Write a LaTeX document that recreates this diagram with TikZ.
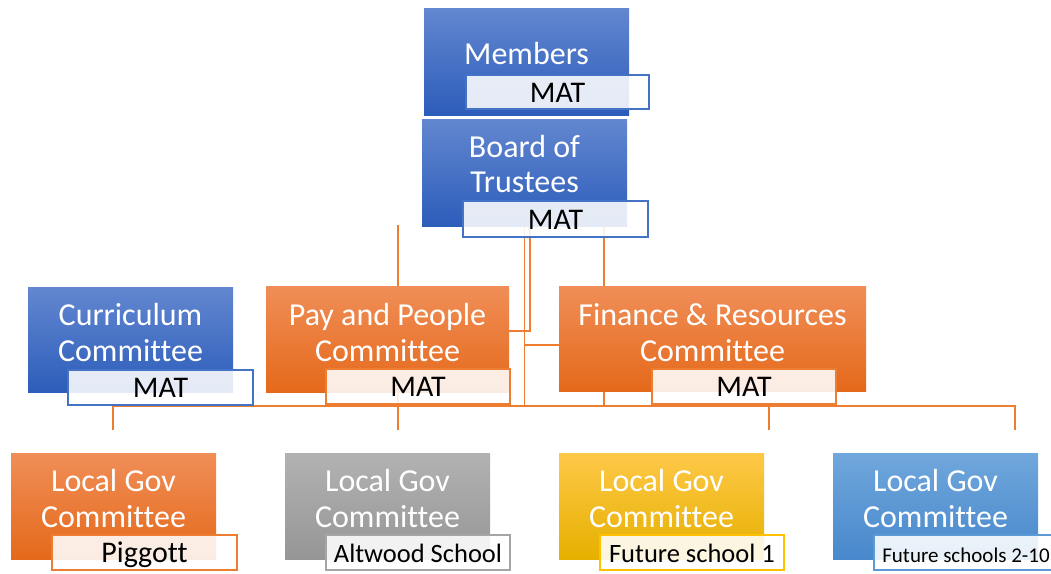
\documentclass[tikz,border=0pt]{standalone}
\usepackage{fontspec}
\setmainfont{Carlito}[Ligatures={NoCommon}]
\usepackage{tikz}
\usetikzlibrary{backgrounds}

\definecolor{BlueTop}{RGB}{99,135,208}
\definecolor{BlueBot}{RGB}{44,93,186}
\definecolor{OrangeTop}{RGB}{240,142,88}
\definecolor{OrangeBot}{RGB}{229,105,26}
\definecolor{GreyTop}{RGB}{178,178,178}
\definecolor{GreyBot}{RGB}{150,150,150}
\definecolor{GoldTop}{RGB}{254,200,72}
\definecolor{GoldBot}{RGB}{230,176,0}
\definecolor{SkyTop}{RGB}{112,167,220}
\definecolor{SkyBot}{RGB}{72,136,204}
\definecolor{TagBlue}{RGB}{68,114,196}
\definecolor{TagOrange}{RGB}{237,125,49}
\definecolor{TagGrey}{RGB}{165,165,165}
\definecolor{TagGold}{RGB}{255,192,0}
\definecolor{TagSky}{RGB}{91,155,213}
\definecolor{LinkOrange}{RGB}{237,125,49}

\begin{document}
\begin{tikzpicture}[x=1pt,y=-1pt,
        unit/.style={minimum width=205,minimum height=106,inner sep=0pt},
        blueunit/.style={unit,top color=BlueTop,bottom color=BlueBot},
        orangeunit/.style={unit,top color=OrangeTop,bottom color=OrangeBot},
        greyunit/.style={unit,top color=GreyTop,bottom color=GreyBot},
        goldunit/.style={unit,top color=GoldTop,bottom color=GoldBot},
        skyunit/.style={unit,top color=SkyTop,bottom color=SkyBot},
        head/.style={text=white,align=center,inner sep=0pt,font=\fontsize{32}{36}\selectfont},
        tag/.style={draw=#1,line width=1.3pt,fill=white,fill opacity=.88,text opacity=1,
            minimum width=184,minimum height=35,inner sep=0pt,text height=26,text depth=6,
            font=\fontsize{30}{32}\selectfont},
        link/.style={draw=LinkOrange,line width=1.2pt}]

    \useasboundingbox (0,0) rectangle (1051,573);

    % governance boxes
    \node[blueunit,minimum height=107]   (members) at (526.5,61.5) {};
    \node[blueunit,minimum height=107]   (board)   at (524.5,172.5) {};
    \node[blueunit,minimum height=105]   (curric)  at (130.5,339.5) {};
    \node[orangeunit,minimum width=243]  (pay)     at (387.5,339) {};
    \node[orangeunit,minimum width=307,minimum height=105] (fin) at (712.5,338.5) {};
    \node[orangeunit] (lgc1) at (113.5,506) {};
    \node[greyunit]   (lgc2) at (387.5,506) {};
    \node[goldunit]   (lgc3) at (661.5,506) {};
    \node[skyunit]    (lgc4) at (935.5,506) {};

    \node[head] (members-t) at ([yshift=8]members.center) {Members};
    \node[head,font=\fontsize{32}{35}\selectfont] (board-t) at ([yshift=8]board.center) {Board of\\Trustees};
    \node[head] (curric-t) at ([yshift=6.5]curric.center) {Curriculum\\Committee};
    \node[head] (pay-t) at ([yshift=6]pay.center) {Pay and People\\Committee};
    \node[head] (fin-t) at ([yshift=6]fin.center) {Finance \& Resources\\Committee};
    \node[head] (lgc1-t) at ([yshift=7.5]lgc1.center) {Local Gov\\Committee};
    \node[head] (lgc2-t) at ([yshift=7.5]lgc2.center) {Local Gov\\Committee};
    \node[head] (lgc3-t) at ([yshift=7.5]lgc3.center) {Local Gov\\Committee};
    \node[head] (lgc4-t) at ([yshift=7.5]lgc4.center) {Local Gov\\Committee};

    % name tags
    \node[tag=TagBlue,minimum width=183,minimum height=34] (members-mat) at (557.5,92) {MAT};
    \node[tag=TagBlue,minimum width=185,minimum height=36] (board-mat) at (555.5,219) {MAT};
    \node[tag=TagBlue,minimum width=185]   (curric-mat) at (160.5,387.5) {MAT};
    \node[tag=TagOrange]                   (pay-mat)    at (418,386.5) {MAT};
    \node[tag=TagOrange]                   (fin-mat)    at (744,386.5) {MAT};
    \node[tag=TagOrange,minimum width=185] (lgc1-tag)   at (144.5,552.5) {Piggott};
    \node[tag=TagGrey]                     (lgc2-tag)   at (418,552.5) {\fontsize{26.5}{28}\selectfont Altwood School};
    \node[tag=TagGold]                     (lgc3-tag)   at (692,552.5) {\fontsize{26.5}{28}\selectfont Future school 1};
    \node[tag=TagSky]                      (lgc4-tag)   at (966,552.5) {\fontsize{21}{24}\selectfont Future schools 2-10};

    % connectors
    \coordinate (payin) at (398,225);
    \coordinate (finx)  at (604,226);
    \coordinate (bus)   at (0,406);
    \coordinate (d1) at (113,430);
    \coordinate (d2) at (398,430);
    \coordinate (d3) at (769,430);
    \coordinate (d4) at (1015,430);
    \begin{scope}[on background layer]
        \draw[link] (payin) -- (payin |- pay.north);
        \draw[link] ([xshift=5.5]board.south) |- ([yshift=8]pay.east);
        \draw[link] (board.south) |- ([yshift=-6.5]fin.west);
        \draw[link] (board.south) -- (board.south |- bus);
        \draw[link] (finx) -- (finx |- fin.north);
        \draw[link] (fin.south -| finx) -- (finx |- bus);
        \draw[link] (pay.south -| d2) -- (d2);
        \draw[link] (d1) -- (d1 |- bus) -- (d4 |- bus) -- (d4);
        \draw[link] (d3) -- (d3 |- bus);
    \end{scope}
\end{tikzpicture}
\end{document}
